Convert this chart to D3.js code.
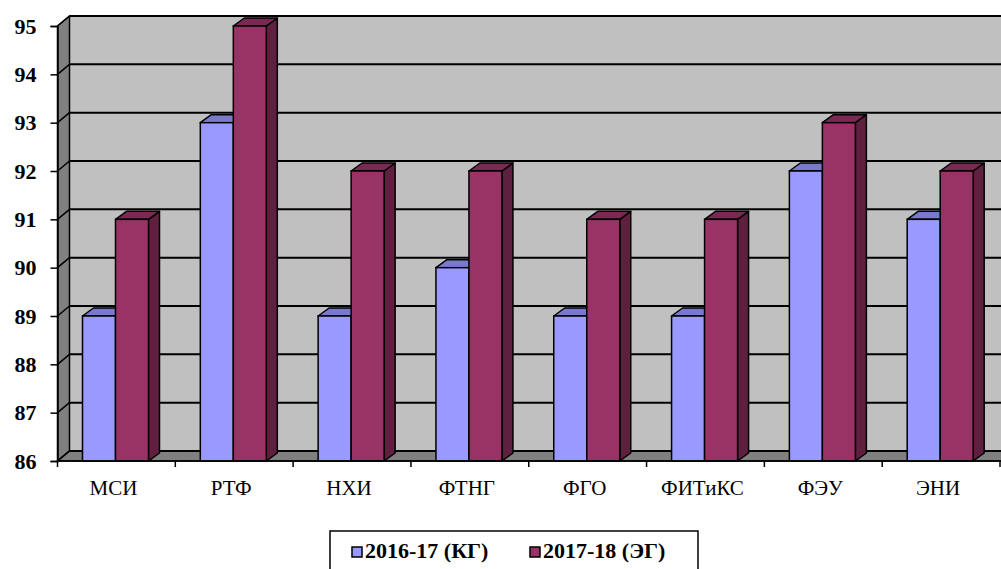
<!DOCTYPE html>
<html>
<head>
<meta charset="utf-8">
<script src="https://cdn.jsdelivr.net/npm/d3@7"></script>
<style>
  html, body { margin: 0; padding: 0; background: #fff; }
  svg { display: block; }
</style>
</head>
<body>
<svg id="chart" width="1001" height="569"></svg>
<script>
// Faculties and the two academic years being compared
const categories = ["МСИ", "РТФ", "НХИ", "ФТНГ", "ФГО", "ФИТиКС", "ФЭУ", "ЭНИ"];
const seriesNames = ["2016-17 (КГ)", "2017-18 (ЭГ)"];
const values2016 = [89, 93, 89, 90, 89, 89, 92, 91];
const values2017 = [91, 95, 92, 92, 91, 91, 93, 92];
const yTicks = [86, 87, 88, 89, 90, 91, 92, 93, 94, 95];

const palette = [
  { front: "#9999ff", top: "#7a7acc", side: "#6b6bb3" },
  { front: "#993366", top: "#7a2952", side: "#5f2040" }
];

(function () {
  const svg = d3.select("#chart");
  const serif = '"Liberation Serif"';

  // Front plane of the 3-D box and the depth offset to the back wall
  const plotLeft = 57.5, plotRight = 1000, plotTop = 26, plotBottom = 461;
  const depth = { dx: 12, dy: -10 };
  const barDepth = { dx: 11, dy: -8 };

  const y = d3.scaleLinear().domain([86, 95]).range([plotBottom, plotTop]);
  const x0 = d3.scaleBand().domain(categories).range([plotLeft, plotRight]);
  const x1 = d3.scaleBand().domain(seriesNames).range([25, 91]);

  const g = svg.append("g");

  // Back wall
  g.append("rect")
    .attr("x", plotLeft + depth.dx).attr("y", plotTop + depth.dy)
    .attr("width", 1001).attr("height", plotBottom - plotTop)
    .attr("fill", "#c0c0c0");

  // Left side wall
  g.append("polygon")
    .attr("points", [[plotLeft, plotTop], [plotLeft + depth.dx, plotTop + depth.dy], [plotLeft + depth.dx, plotBottom + depth.dy], [plotLeft, plotBottom]].join(" "))
    .attr("fill", "#808080").attr("stroke", "#000").attr("stroke-width", 1.5);

  // Floor
  g.append("polygon")
    .attr("points", [[plotLeft, plotBottom], [plotLeft + depth.dx, plotBottom + depth.dy], [1010, plotBottom + depth.dy], [1010, plotBottom]].join(" "))
    .attr("fill", "#808080").attr("stroke", "#000").attr("stroke-width", 1.5);

  // Gridlines on the back wall and their diagonals on the side wall
  yTicks.forEach(t => {
    const yy = y(t);
    g.append("line")
      .attr("x1", plotLeft + depth.dx).attr("x2", 1010)
      .attr("y1", yy + depth.dy).attr("y2", yy + depth.dy)
      .attr("stroke", "#000").attr("stroke-width", 2);
    g.append("line")
      .attr("x1", plotLeft).attr("x2", plotLeft + depth.dx)
      .attr("y1", yy).attr("y2", yy + depth.dy)
      .attr("stroke", "#000").attr("stroke-width", 1.5);
  });

  // Bars as 3-D prisms: front face, top face, right side face
  const rows = categories.map((c, i) => ({ cat: c, vals: [values2016[i], values2017[i]] }));
  rows.forEach(r => {
    r.vals.forEach((v, si) => {
      const bx = x0(r.cat) + x1(seriesNames[si]);
      const bw = x1.bandwidth();
      const by = y(v);
      const col = palette[si];
      const bar = g.append("g");
      bar.append("polygon")
        .attr("points", [[bx + bw, by], [bx + bw + barDepth.dx, by + barDepth.dy], [bx + bw + barDepth.dx, plotBottom + barDepth.dy], [bx + bw, plotBottom]].join(" "))
        .attr("fill", col.side).attr("stroke", "#000").attr("stroke-width", 1.5).attr("stroke-linejoin", "round");
      bar.append("polygon")
        .attr("points", [[bx, by], [bx + barDepth.dx, by + barDepth.dy], [bx + bw + barDepth.dx, by + barDepth.dy], [bx + bw, by]].join(" "))
        .attr("fill", col.top).attr("stroke", "#000").attr("stroke-width", 1.5).attr("stroke-linejoin", "round");
      bar.append("rect")
        .attr("x", bx).attr("y", by).attr("width", bw).attr("height", plotBottom - by)
        .attr("fill", col.front).attr("stroke", "#000").attr("stroke-width", 1.5);
    });
  });

  // Value axis
  const yAxis = d3.axisLeft(y).tickValues(yTicks).tickSize(7).tickPadding(14).tickFormat(d3.format("d"));
  const ya = svg.append("g").attr("transform", `translate(${plotLeft},0)`).call(yAxis)
    .attr("font-family", null).attr("font-size", null);
  ya.select(".domain").attr("stroke", "#000").attr("stroke-width", 1.5);
  ya.selectAll(".tick line").attr("stroke", "#000").attr("stroke-width", 1.5);
  ya.selectAll(".tick text")
    .style("font-family", serif).style("font-size", "22px").style("font-weight", "bold")
    .attr("fill", "#000");

  // Category axis along the front edge of the floor
  const xAxis = d3.axisBottom(x0).tickSize(0).tickPadding(19);
  const xa = svg.append("g").attr("transform", `translate(-3,${plotBottom})`).call(xAxis)
    .attr("font-family", null).attr("font-size", null);
  xa.select(".domain").remove();
  xa.selectAll(".tick text")
    .style("font-family", serif).style("font-size", "21px")
    .attr("fill", "#000");
  // Front edge of the floor and tick marks at the band boundaries
  svg.append("line")
    .attr("x1", plotLeft).attr("x2", 1001).attr("y1", plotBottom).attr("y2", plotBottom)
    .attr("stroke", "#000").attr("stroke-width", 1.5);
  svg.selectAll(".bound").data(categories.map(c => x0(c)).concat([plotRight]))
    .enter().append("line").attr("class", "bound")
    .attr("x1", d => d).attr("x2", d => d).attr("y1", plotBottom).attr("y2", plotBottom + 6)
    .attr("stroke", "#000").attr("stroke-width", 1.5);

  // Legend
  const legend = svg.append("g");
  legend.append("rect")
    .attr("x", 330).attr("y", 531).attr("width", 368).attr("height", 50)
    .attr("fill", "#fff").attr("stroke", "#000").attr("stroke-width", 1.5);
  const legendX = [352, 530];
  seriesNames.forEach((s, i) => {
    legend.append("rect")
      .attr("x", legendX[i]).attr("y", 547).attr("width", 10).attr("height", 10)
      .attr("fill", palette[i].front).attr("stroke", "#000").attr("stroke-width", 1.5);
    legend.append("text")
      .attr("x", legendX[i] + 13).attr("y", 558)
      .style("font-family", serif).style("font-size", "22px").style("font-weight", "bold")
      .attr("fill", "#000")
      .text(s);
  });
})();
</script>
</body>
</html>
